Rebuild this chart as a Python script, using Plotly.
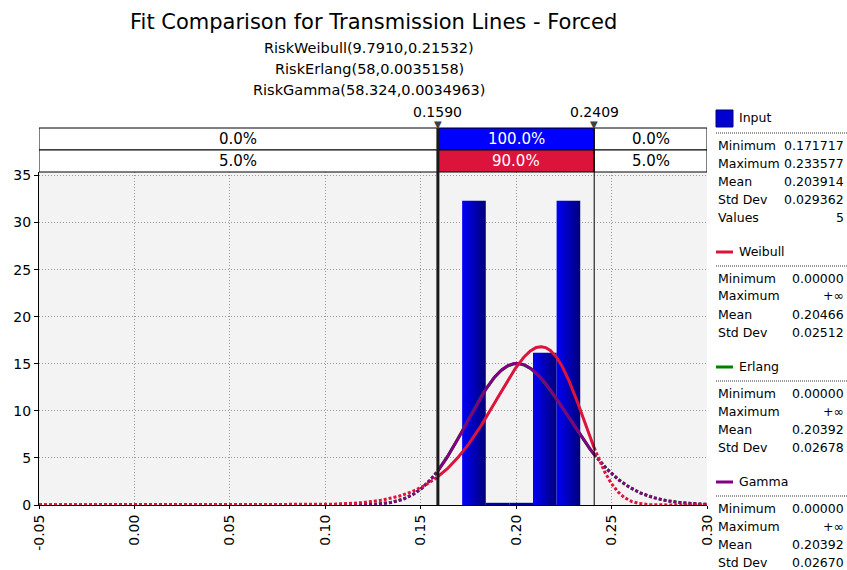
import math
import numpy as np
import plotly.graph_objects as go

# ---------------- data ----------------
TITLE = "Fit Comparison for Transmission Lines - Forced"
SUBTITLES = ["RiskWeibull(9.7910,0.21532)",
             "RiskErlang(58,0.0035158)",
             "RiskGamma(58.324,0.0034963)"]

input_min = 0.171717
input_max = 0.233577
input_n = 5
bin_counts = [2, 0, 0, 1, 2]

weibull_shape, weibull_scale = 9.7910, 0.21532
erlang_k, erlang_scale = 58, 0.0035158
gamma_shape, gamma_scale = 58.324, 0.0034963

left_mark, right_mark = 0.1590, 0.2409
left_mark_label, right_mark_label = "0.1590", "0.2409"
row1_pcts = ["0.0%", "100.0%", "0.0%"]
row2_pcts = ["5.0%", "90.0%", "5.0%"]

x_range = [-0.05, 0.30]
x_ticks = [-0.05, 0.00, 0.05, 0.10, 0.15, 0.20, 0.25, 0.30]
x_tick_labels = ["-0.05", "0.00", "0.05", "0.10", "0.15", "0.20", "0.25", "0.30"]
y_ticks = [0, 5, 10, 15, 20, 25, 30, 35]
y_tick_labels = ["0", "5", "10", "15", "20", "25", "30", "35"]

input_stat_labels = ["Minimum", "Maximum", "Mean", "Std Dev", "Values"]
input_stat_values = ["0.171717", "0.233577", "0.203914", "0.029362", "5"]
fit_stat_labels = ["Minimum", "Maximum", "Mean", "Std Dev"]
fit_names = ["Weibull", "Erlang", "Gamma"]
weibull_stat_values = ["0.00000", "+∞", "0.20466", "0.02512"]
erlang_stat_values = ["0.00000", "+∞", "0.20392", "0.02678"]
gamma_stat_values = ["0.00000", "+∞", "0.20392", "0.02670"]

# ---------------- styles ----------------
FONT = "DejaVu Sans"
W, H = 847, 570
RED = "#DC143C"
GREEN = "#008000"
PURPLE = "#800080"
BLUE = "#0000FF"
NAVY = "#000080"


def px(x):
    return x / W


def py(y):
    return 1 - y / H


# ---------------- distributions ----------------
def weibull_pdf(x, k, lam):
    out = np.zeros_like(x)
    m = x > 0
    z = x[m] / lam
    out[m] = k / lam * z ** (k - 1) * np.exp(-z ** k)
    return out


def gamma_pdf(x, a, b):
    out = np.zeros_like(x)
    m = x > 0
    out[m] = np.exp((a - 1) * np.log(x[m]) - x[m] / b - math.lgamma(a) - a * math.log(b))
    return out


fig = go.Figure()

# histogram bars (density)
bin_w = (input_max - input_min) / len(bin_counts)
edges = [input_min + i * bin_w for i in range(len(bin_counts) + 1)]
for i, c in enumerate(bin_counts):
    h = c / (input_n * bin_w)
    x0, x1 = edges[i], edges[i + 1]
    if c > 0:
        fig.add_trace(go.Scatter(
            x=[x0, x0, x1, x1, x0], y=[0, h, h, 0, 0], mode="lines",
            fill="toself",
            fillgradient=dict(type="horizontal",
                              colorscale=[[0, "#0000F8"], [1, "#000078"]]),
            line=dict(width=0, color="rgba(0,0,0,0)"),
            hoverinfo="skip"))
    else:
        fig.add_trace(go.Scatter(
            x=[x0, x1], y=[0.1, 0.1], mode="lines",
            line=dict(width=2.5, color="#0000A0"), hoverinfo="skip"))

# fitted curves: solid inside the marked window, dotted outside
segments = [(x_range[0], left_mark, "3px,2px"),
            (left_mark, right_mark, "solid"),
            (right_mark, x_range[1], "3px,2px")]
curves = [
    (GREEN, lambda x: gamma_pdf(x, erlang_k, erlang_scale)),
    (PURPLE, lambda x: gamma_pdf(x, gamma_shape, gamma_scale)),
    (RED, lambda x: weibull_pdf(x, weibull_shape, weibull_scale)),
]
for color, f in curves:
    for a, b, dash in segments:
        xs = np.linspace(a, b, 400)
        fig.add_trace(go.Scatter(x=xs, y=f(xs), mode="lines",
                                 line=dict(color=color, width=3, dash=dash),
                                 hoverinfo="skip"))

shapes = []
annotations = []

# band boxes
band_rows = [(128, 150, row1_pcts, BLUE), (150, 172, row2_pcts, RED)]
bounds = [x_range[0], left_mark, right_mark, x_range[1]]
for top, bot, pcts, midcol in band_rows:
    for j in range(3):
        fill = midcol if j == 1 else "white"
        shapes.append(dict(type="rect", xref="x", yref="paper",
                           x0=bounds[j], x1=bounds[j + 1], y0=py(bot), y1=py(top),
                           fillcolor=fill, line=dict(color="black", width=1), layer="above"))
        annotations.append(dict(xref="x", yref="paper", x=(bounds[j] + bounds[j + 1]) / 2,
                                y=py((top + bot) / 2), text=pcts[j], showarrow=False,
                                font=dict(family=FONT, size=15,
                                          color="white" if j == 1 else "black"),
                                xanchor="center", yanchor="middle"))

# vertical marker lines
shapes.append(dict(type="line", xref="x", yref="paper", x0=left_mark, x1=left_mark,
                   y0=py(505), y1=py(128), line=dict(color="#1a1a1a", width=3), layer="above"))
shapes.append(dict(type="line", xref="x", yref="paper", x0=right_mark, x1=right_mark,
                   y0=py(505), y1=py(128), line=dict(color="black", width=1), layer="above"))
for xv, lab in [(left_mark, left_mark_label), (right_mark, right_mark_label)]:
    annotations.append(dict(xref="x", yref="paper", x=xv, y=py(112), text=lab,
                            showarrow=False, font=dict(family=FONT, size=14, color="black"),
                            xanchor="center", yanchor="middle"))
    annotations.append(dict(xref="x", yref="paper", x=xv, y=py(124), text="▼",
                            showarrow=False, font=dict(family=FONT, size=10, color="#404040"),
                            xanchor="center", yanchor="middle"))

# title and subtitles
annotations.append(dict(xref="paper", yref="paper", x=px(373), y=py(22), text=TITLE,
                        showarrow=False, font=dict(family=FONT, size=21, color="black"),
                        xanchor="center", yanchor="middle"))
for k, s in enumerate(SUBTITLES):
    annotations.append(dict(xref="paper", yref="paper", x=px(369), y=py([48, 69, 90][k]),
                            text=s, showarrow=False,
                            font=dict(family=FONT, size=14.5, color="black"),
                            xanchor="center", yanchor="middle"))

# right stats panel
PX_L, PX_R = 716, 846
STAT_FONT = dict(family=FONT, size=12.5, color="black")


def add_block(header_y, name, labels, values, icon):
    if icon == "box":
        shapes.append(dict(type="rect", xref="paper", yref="paper",
                           x0=px(716), x1=px(733), y0=py(127), y1=py(110),
                           fillcolor="#0000D0", line=dict(color=NAVY, width=1)))
    else:
        shapes.append(dict(type="line", xref="paper", yref="paper",
                           x0=px(716), x1=px(733), y0=py(header_y + 1), y1=py(header_y + 1),
                           line=dict(color=icon, width=3)))
    annotations.append(dict(xref="paper", yref="paper", x=px(737), y=py(header_y), text=name,
                            showarrow=False, font=STAT_FONT, xanchor="left", yanchor="middle"))
    sep = header_y + 15
    shapes.append(dict(type="line", xref="paper", yref="paper", x0=px(716), x1=1,
                       y0=py(sep), y1=py(sep), line=dict(color="#999", width=2, dash="1px,1px")))
    for r, (lab, val) in enumerate(zip(labels, values)):
        yy = header_y + 27 + 18 * r
        annotations.append(dict(xref="paper", yref="paper", x=px(PX_L), y=py(yy), text=lab,
                                showarrow=False, font=STAT_FONT, xanchor="left", yanchor="middle"))
        annotations.append(dict(xref="paper", yref="paper", x=px(PX_R), y=py(yy), text=val,
                                showarrow=False, font=STAT_FONT, xanchor="right", yanchor="middle"))


add_block(118, "Input", input_stat_labels, input_stat_values, "box")
add_block(251, fit_names[0], fit_stat_labels, weibull_stat_values, RED)
add_block(366, fit_names[1], fit_stat_labels, erlang_stat_values, GREEN)
add_block(481, fit_names[2], fit_stat_labels, gamma_stat_values, PURPLE)

y_top = 35 * (505 - 172) / (505 - 175.5)

fig.update_layout(
    width=W, height=H,
    margin=dict(l=0, r=0, t=0, b=0),
    paper_bgcolor="white", plot_bgcolor="#F3F3F3",
    showlegend=False,
    shapes=shapes, annotations=annotations,
    xaxis=dict(domain=[px(39), px(707)], range=x_range, tickvals=x_ticks,
               ticktext=x_tick_labels, tickangle=-90, automargin=False,
               showgrid=True, gridcolor="#9a9a9a", griddash="1px,2px", gridwidth=1,
               zeroline=False, showline=True, linecolor="black", linewidth=1,
               ticks="outside", ticklen=3, tickcolor="black",
               tickfont=dict(family=FONT, size=14, color="black")),
    yaxis=dict(domain=[py(505), py(172)], range=[0, y_top], tickvals=y_ticks,
               ticktext=y_tick_labels, automargin=False,
               showgrid=True, gridcolor="#9a9a9a", griddash="1px,2px", gridwidth=1,
               zeroline=False, showline=True, linecolor="black", linewidth=1,
               ticks="outside", ticklen=4, tickcolor="black",
               tickfont=dict(family=FONT, size=14, color="black")),
)

fig.write_html(
    "out.html",
    config={"displayModeBar": False},
    post_script="document.body.style.margin='0';document.body.style.overflow='hidden';",
)
